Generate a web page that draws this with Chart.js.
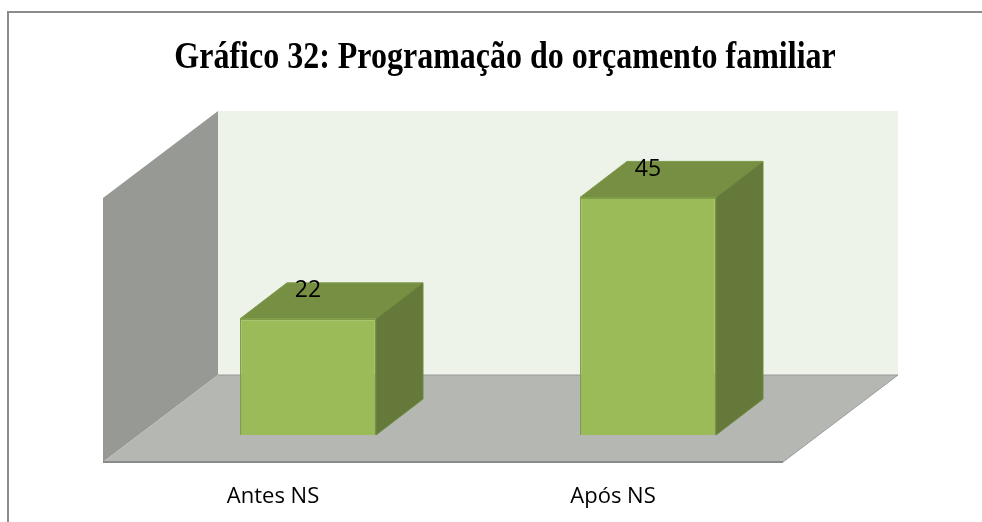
<!DOCTYPE html>
<html>
<head>
<meta charset="utf-8">
<script src="https://cdn.jsdelivr.net/npm/chart.js@4"></script>
<style>
  html, body { margin: 0; padding: 0; background: #fff; }
  #wrap { width: 982px; height: 522px; }
</style>
</head>
<body>
<div id="wrap"><canvas id="chart" width="982" height="522"></canvas></div>
<script>
const titleText = "Gráfico 32: Programação do orçamento familiar";
const categories = ["Antes NS", "Após NS"];
const values = [22, 45];
const yMax = 50;

// depth offsets of the fake 3D box (pixels)
const frontGap = { dx: -35, dy: 27 };  // bar front plane -> floor front edge
const backGap = { dx: 80, dy: -60 };   // bar front plane -> back wall
const barDepth = { dx: 47, dy: -36 };

function poly(ctx, pts, fill, stroke) {
  ctx.beginPath();
  ctx.moveTo(pts[0][0], pts[0][1]);
  for (let i = 1; i < pts.length; i++) ctx.lineTo(pts[i][0], pts[i][1]);
  ctx.closePath();
  ctx.fillStyle = fill;
  ctx.fill();
  if (stroke) {
    ctx.strokeStyle = stroke;
    ctx.lineWidth = 1;
    ctx.stroke();
  }
}

const box3d = {
  id: "box3d",
  beforeDraw(chart) {
    const ctx = chart.ctx;
    ctx.save();
    // outer frame
    ctx.strokeStyle = "#8c8c8c";
    ctx.lineWidth = 2;
    ctx.beginPath();
    ctx.moveTo(8, 522);
    ctx.lineTo(8, 12);
    ctx.lineTo(982, 12);
    ctx.stroke();
    // title (the original font is a tall, narrow Times bold)
    ctx.fillStyle = "#000";
    ctx.font = "bold 32px 'Liberation Serif', 'Times New Roman', serif";
    ctx.textAlign = "center";
    ctx.textBaseline = "alphabetic";
    ctx.translate(505, 68);
    ctx.scale(1, 1.2);
    ctx.fillText(titleText, 0, 0);
    ctx.restore();
  },
  beforeDatasetsDraw(chart) {
    const ctx = chart.ctx;
    const a = chart.chartArea;
    const y = chart.scales.y;
    const zero = y.getPixelForValue(0);
    const top = y.getPixelForValue(yMax);
    const fl = a.left + frontGap.dx, fr = a.right + frontGap.dx, fb = zero + frontGap.dy;
    const ft = top + frontGap.dy;
    const bl = a.left + backGap.dx, br = a.right + backGap.dx, bb = zero + backGap.dy;
    const bt = top + backGap.dy;
    ctx.save();
    // back wall
    poly(ctx, [[bl, bt], [br, bt], [br, bb], [bl, bb]], "#eef3ea");
    // side wall
    poly(ctx, [[fl, ft], [bl, bt], [bl, bb], [fl, fb]], "#979995");
    // floor
    poly(ctx, [[fl, fb], [bl, bb], [br, bb], [fr, fb]], "#b5b7b3");
    ctx.strokeStyle = "#9a9a9a";
    ctx.lineWidth = 1;
    ctx.beginPath();
    ctx.moveTo(bl, bb); ctx.lineTo(br, bb); ctx.lineTo(fr, fb);
    ctx.stroke();
    ctx.strokeStyle = "#8a8a8a";
    ctx.lineWidth = 2;
    ctx.beginPath();
    ctx.moveTo(fl, fb); ctx.lineTo(fr, fb);
    ctx.stroke();
    ctx.restore();
  },
  afterDatasetsDraw(chart) {
    const ctx = chart.ctx;
    const meta = chart.getDatasetMeta(0);
    ctx.save();
    meta.data.forEach((bar, i) => {
      const p = bar.getProps(["x", "y", "base", "width"], true);
      const l = p.x - p.width / 2, r = p.x + p.width / 2;
      const t = p.y, b = p.base;
      const dx = barDepth.dx, dy = barDepth.dy;
      // top face
      poly(ctx, [[l, t], [l + dx, t + dy], [r + dx, t + dy], [r, t]], "#778f42", "#7e9a48");
      // side face
      poly(ctx, [[r, t], [r + dx, t + dy], [r + dx, b + dy], [r, b]], "#64793a", "#6e8a3e");
      // value label
      ctx.fillStyle = "#000";
      ctx.font = "23px 'Open Sans'";
      ctx.textAlign = "center";
      ctx.textBaseline = "middle";
      ctx.fillText(String(values[i]), p.x, t - 28);
    });
    ctx.restore();
  }
};

new Chart(document.getElementById("chart"), {
  type: "bar",
  data: {
    labels: categories,
    datasets: [{
      data: values,
      backgroundColor: "#9bbb59",
      borderColor: "#7f9f45",
      borderWidth: 1.5,
      barPercentage: 0.4,
      categoryPercentage: 1
    }]
  },
  options: {
    responsive: false,
    animation: false,
    events: [],
    layout: { padding: { left: 138, right: 164, top: 171, bottom: 0 } },
    plugins: {
      legend: { display: false },
      tooltip: { enabled: false }
    },
    scales: {
      x: {
        grid: { display: false, drawTicks: false },
        border: { display: false },
        ticks: {
          color: "#000",
          font: { family: "'Open Sans'", size: 22 },
          padding: 49,
          labelOffset: -35
        },
        afterFit(scale) { scale.height = 87; }
      },
      y: {
        display: false,
        min: 0,
        max: yMax
      }
    }
  },
  plugins: [box3d]
});
</script>
</body>
</html>
